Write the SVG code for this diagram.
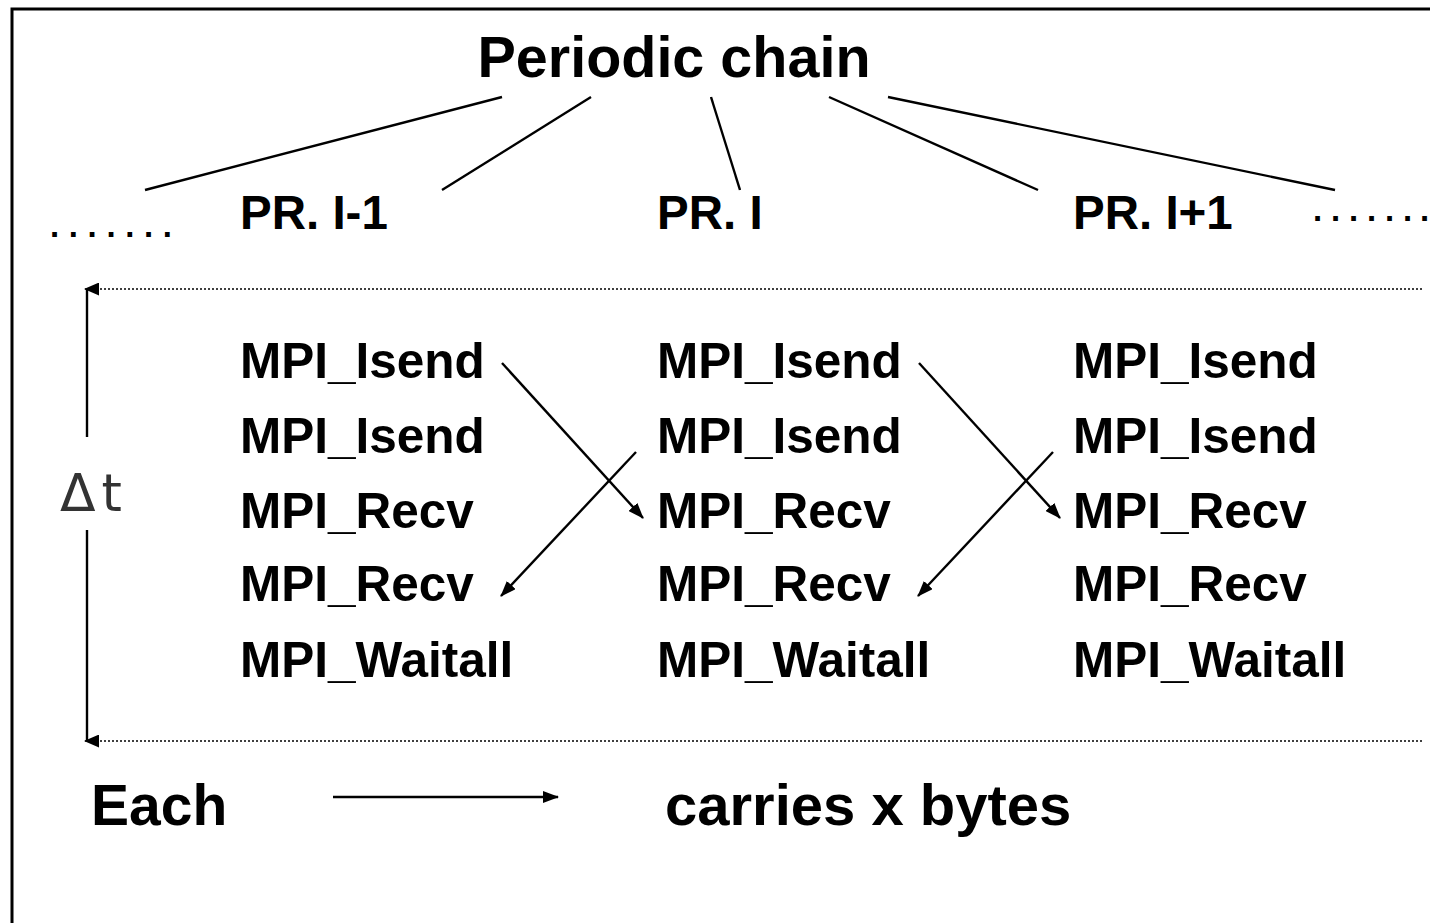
<svg xmlns="http://www.w3.org/2000/svg" width="1430" height="923" viewBox="0 0 1430 923">
<defs>
<style>
.t{font-family:"Liberation Sans",Arial,sans-serif;font-weight:bold;fill:#000}
.mpi{font-size:49.5px}
.pr{font-size:47.5px}
.dots{font-family:"Liberation Sans",Arial,sans-serif;font-weight:bold;font-size:33px}
.ln{stroke:#000;stroke-width:2.4;fill:none}
.dot{stroke:#000;stroke-width:1.6;stroke-dasharray:2 2;fill:none}
</style>
<marker id="ah" viewBox="0 0 16 12" refX="15" refY="6" markerWidth="16" markerHeight="12" markerUnits="userSpaceOnUse" orient="auto">
<path d="M0,0 L16,6 L0,12 Z" fill="#000"/>
</marker>
<marker id="ahl" viewBox="0 0 15 13" refX="14" refY="6.5" markerWidth="15" markerHeight="13" markerUnits="userSpaceOnUse" orient="auto">
<path d="M0,0 L15,6.5 L0,13 Z" fill="#000"/>
</marker>
</defs>
<rect width="1430" height="923" fill="#fff"/>
<g id="frame">
<path d="M12,923 L12,9 L1430,9" stroke="#000" stroke-width="3" fill="none"/>
</g>
<g id="title"><text class="t" x="674" y="77" font-size="57.5" text-anchor="middle">Periodic chain</text></g>
<g id="pr-left"><text class="t pr" x="240" y="229">PR. I-1</text></g>
<g id="pr-mid"><text class="t pr" x="657" y="229">PR. I</text></g>
<g id="pr-right"><text class="t pr" x="1073" y="229">PR. I+1</text></g>
<g id="dots-left"><text class="dots" x="50 68.8 87.6 106.4 125.2 144 162.8" y="237">.......</text></g>
<g id="dots-right"><text class="dots" x="1313 1331 1349 1367 1385 1403 1420" y="221">.......</text></g>
<g id="col-left" class="t mpi">
<text x="240" y="378">MPI_Isend</text>
<text x="240" y="453">MPI_Isend</text>
<text x="240" y="528">MPI_Recv</text>
<text x="240" y="601">MPI_Recv</text>
<text x="240" y="677">MPI_Waitall</text>
</g>
<g id="col-mid" class="t mpi">
<text x="657" y="378">MPI_Isend</text>
<text x="657" y="453">MPI_Isend</text>
<text x="657" y="528">MPI_Recv</text>
<text x="657" y="601">MPI_Recv</text>
<text x="657" y="677">MPI_Waitall</text>
</g>
<g id="col-right" class="t mpi">
<text x="1073" y="378">MPI_Isend</text>
<text x="1073" y="453">MPI_Isend</text>
<text x="1073" y="528">MPI_Recv</text>
<text x="1073" y="601">MPI_Recv</text>
<text x="1073" y="677">MPI_Waitall</text>
</g>
<g id="delta-t"><text x="60" y="511" font-family="'DejaVu Sans',sans-serif" font-size="52" letter-spacing="6" fill="#333">Δt</text></g>
<g id="each"><text class="t" x="91" y="825" font-size="57">Each</text></g>
<g id="carries"><text class="t" x="665" y="825" font-size="58">carries x bytes</text></g>
<g id="connectors">
<line class="ln" x1="502" y1="97" x2="145" y2="190"/>
<line class="ln" x1="591" y1="97" x2="442" y2="190"/>
<line class="ln" x1="711" y1="97" x2="740" y2="190"/>
<line class="ln" x1="829" y1="97" x2="1038" y2="190"/>
<line class="ln" x1="888" y1="97" x2="1335" y2="190"/>
<line class="ln" x1="502" y1="363" x2="643" y2="518" marker-end="url(#ah)"/>
<line class="ln" x1="636" y1="452" x2="501" y2="596" marker-end="url(#ah)"/>
<line class="ln" x1="919" y1="363" x2="1060" y2="518" marker-end="url(#ah)"/>
<line class="ln" x1="1053" y1="452" x2="918" y2="596" marker-end="url(#ah)"/>
<line class="dot" x1="1422" y1="289" x2="85" y2="289" marker-end="url(#ahl)"/>
<line class="dot" x1="1422" y1="741" x2="85" y2="741" marker-end="url(#ahl)"/>
<line class="ln" x1="87" y1="289" x2="87" y2="437"/>
<line class="ln" x1="87" y1="530" x2="87" y2="741"/>
<line class="ln" x1="333" y1="797" x2="558" y2="797" marker-end="url(#ah)"/>
</g>
</svg>
